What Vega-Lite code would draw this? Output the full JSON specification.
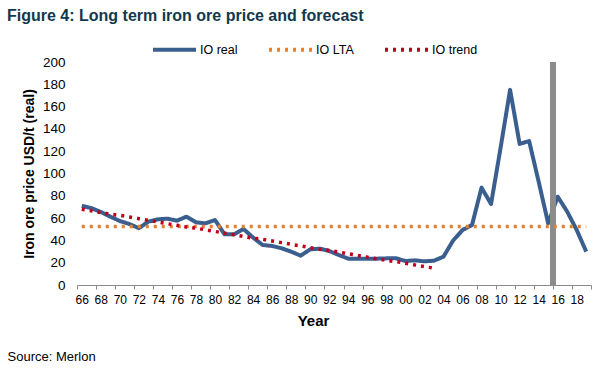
{
  "$schema": "https://vega.github.io/schema/vega-lite/v6.json",
  "width": 514,
  "height": 223,
  "autosize": {"type": "none"},
  "padding": {"left": 77, "top": 62, "right": 25, "bottom": 84},
  "background": "white",
  "config": {
    "font": "Liberation Sans",
    "view": {"stroke": null},
    "axis": {"labelOverlap": false}
  },
  "title": {
    "text": "Figure 4: Long term iron ore price and forecast",
    "anchor": "start",
    "frame": "group",
    "dx": -70,
    "dy": 19,
    "fontSize": 16,
    "fontWeight": "bold",
    "color": "#12384d",
    "baseline": "alphabetic",
    "offset": 8
  },
  "data": {
    "values": [
      {"year": 1966, "real": 71, "lta": 52.5, "trend": 68},
      {"year": 1967, "real": 69, "lta": 52.5, "trend": 66.5},
      {"year": 1968, "real": 65.5, "lta": 52.5, "trend": 65},
      {"year": 1969, "real": 61.3, "lta": 52.5, "trend": 63.5},
      {"year": 1970, "real": 57.4, "lta": 52.5, "trend": 62.5},
      {"year": 1971, "real": 54.7, "lta": 52.5, "trend": 61},
      {"year": 1972, "real": 51, "lta": 52.5, "trend": 59.5},
      {"year": 1973, "real": 56.8, "lta": 52.5, "trend": 58},
      {"year": 1974, "real": 58.9, "lta": 52.5, "trend": 56.5},
      {"year": 1975, "real": 59.5, "lta": 52.5, "trend": 55},
      {"year": 1976, "real": 57.7, "lta": 52.5, "trend": 53.5},
      {"year": 1977, "real": 61.3, "lta": 52.5, "trend": 52},
      {"year": 1978, "real": 56.2, "lta": 52.5, "trend": 51},
      {"year": 1979, "real": 55.3, "lta": 52.5, "trend": 49.5},
      {"year": 1980, "real": 58.3, "lta": 52.5, "trend": 48},
      {"year": 1981, "real": 45.5, "lta": 52.5, "trend": 46.5},
      {"year": 1982, "real": 45.5, "lta": 52.5, "trend": 45},
      {"year": 1983, "real": 50.2, "lta": 52.5, "trend": 43.5},
      {"year": 1984, "real": 42.5, "lta": 52.5, "trend": 42},
      {"year": 1985, "real": 35.9, "lta": 52.5, "trend": 41},
      {"year": 1986, "real": 35, "lta": 52.5, "trend": 39.5},
      {"year": 1987, "real": 32.9, "lta": 52.5, "trend": 38},
      {"year": 1988, "real": 29.9, "lta": 52.5, "trend": 36.5},
      {"year": 1989, "real": 26.3, "lta": 52.5, "trend": 35},
      {"year": 1990, "real": 32, "lta": 52.5, "trend": 33.5},
      {"year": 1991, "real": 32.6, "lta": 52.5, "trend": 32},
      {"year": 1992, "real": 30.5, "lta": 52.5, "trend": 31},
      {"year": 1993, "real": 26.9, "lta": 52.5, "trend": 29.5},
      {"year": 1994, "real": 23.6, "lta": 52.5, "trend": 28},
      {"year": 1995, "real": 23.6, "lta": 52.5, "trend": 26.5},
      {"year": 1996, "real": 23.6, "lta": 52.5, "trend": 25},
      {"year": 1997, "real": 23.6, "lta": 52.5, "trend": 23.5},
      {"year": 1998, "real": 23.9, "lta": 52.5, "trend": 22},
      {"year": 1999, "real": 24, "lta": 52.5, "trend": 21},
      {"year": 2000, "real": 21.5, "lta": 52.5, "trend": 19.5},
      {"year": 2001, "real": 22.1, "lta": 52.5, "trend": 18},
      {"year": 2002, "real": 21.2, "lta": 52.5, "trend": 16.5},
      {"year": 2003, "real": 21.8, "lta": 52.5, "trend": 15},
      {"year": 2004, "real": 25.4, "lta": 52.5},
      {"year": 2005, "real": 39.7, "lta": 52.5},
      {"year": 2006, "real": 49.3, "lta": 52.5},
      {"year": 2007, "real": 53.8, "lta": 52.5},
      {"year": 2008, "real": 87.3, "lta": 52.5},
      {"year": 2009, "real": 72.6, "lta": 52.5},
      {"year": 2010, "real": 123, "lta": 52.5},
      {"year": 2011, "real": 175, "lta": 52.5},
      {"year": 2012, "real": 126.5, "lta": 52.5},
      {"year": 2013, "real": 129.1, "lta": 52.5},
      {"year": 2014, "real": 92.7, "lta": 52.5},
      {"year": 2015, "real": 55.3, "lta": 52.5},
      {"year": 2016, "real": 79.2, "lta": 52.5},
      {"year": 2017, "real": 65.8, "lta": 52.5},
      {"year": 2018, "real": 49.3, "lta": 52.5},
      {"year": 2019, "real": 29.9, "lta": 52.5}
    ]
  },
  "transform": [
    {"fold": ["real", "lta", "trend"], "as": ["series", "value"]}
  ],
  "layer": [
    {
      "transform": [{"filter": "datum.series === 'real'"}],
      "mark": {"type": "line", "strokeWidth": 4, "strokeJoin": "round"},
      "encoding": {
        "x": {
          "field": "year", "type": "quantitative",
          "scale": {"domain": [1965.5, 2019.5], "nice": false, "zero": false},
          "axis": {
            "orient": "bottom",
            "values": [1966,1968,1970,1972,1974,1976,1978,1980,1982,1984,1986,1988,1990,1992,1994,1996,1998,2000,2002,2004,2006,2008,2010,2012,2014,2016,2018],
            "labelExpr": "slice(toString(datum.value), 2)",
            "ticks": false,
            "grid": false,
            "domain": true,
            "domainColor": "#8a8a8a",
            "domainWidth": 1,
            "labelFontSize": 12,
            "labelColor": "#000000",
            "labelPadding": 9,
            "labelBaseline": "top",
            "labelFlush": false,
            "labelOverlap": false,
            "title": "Year",
            "titleFontSize": 15,
            "titleFontWeight": "bold",
            "titleColor": "#000000",
            "titleX": 236,
            "titleY": 40,
            "titleBaseline": "alphabetic",
            "titleAlign": "center"
          }
        },
        "y": {
          "field": "value", "type": "quantitative",
          "scale": {"domain": [0, 200], "nice": false},
          "axis": {
            "orient": "left",
            "values": [0,20,40,60,80,100,120,140,160,180,200],
            "domain": false,
            "ticks": false,
            "grid": false,
            "labelOverlap": false,
            "labelFlush": false,
            "labelFontSize": 13.5,
            "labelColor": "#000000",
            "labelPadding": 12,
            "title": "Iron ore price USD/t (real)",
            "titleFontSize": 14,
            "titleFontWeight": "bold",
            "titleColor": "#000000",
            "titlePadding": 6
          }
        },
        "color": {
          "field": "series", "type": "nominal",
          "scale": {"domain": ["real", "lta", "trend"], "range": ["#3A5F8F", "#E5802E", "#C0001B"]},
          "legend": {
            "orient": "none",
            "legendX": 74,
            "legendY": -36,
            "direction": "horizontal",
            "title": null,
            "labelExpr": "{'real': 'IO real', 'lta': 'IO LTA', 'trend': 'IO trend'}[datum.label]",
            "labelFontSize": 12.5,
            "labelColor": "#000000",
            "labelOffset": 2,
            "symbolType": "stroke",
            "symbolSize": 1849,
            "symbolStrokeWidth": 4,
            "columnPadding": 23
          }
        },
        "strokeDash": {
          "field": "series", "type": "nominal",
          "scale": {"domain": ["real", "lta", "trend"], "range": [[1, 0], [3, 5], [3, 5]]},
          "legend": {
            "orient": "none",
            "legendX": 74,
            "legendY": -36,
            "direction": "horizontal",
            "title": null,
            "labelExpr": "{'real': 'IO real', 'lta': 'IO LTA', 'trend': 'IO trend'}[datum.label]",
            "labelFontSize": 12.5,
            "labelColor": "#000000",
            "labelOffset": 2,
            "symbolType": "stroke",
            "symbolSize": 1849,
            "symbolStrokeWidth": 4,
            "columnPadding": 23
          }
        }
      }
    },
    {
      "mark": {"type": "rule", "color": "#8c8c8c", "strokeWidth": 5},
      "encoding": {
        "x": {
          "datum": 2015.5, "type": "quantitative",
          "axis": {
            "orient": "bottom",
            "values": [1965.5,1967.5,1969.5,1971.5,1973.5,1975.5,1977.5,1979.5,1981.5,1983.5,1985.5,1987.5,1989.5,1991.5,1993.5,1995.5,1997.5,1999.5,2001.5,2003.5,2005.5,2007.5,2009.5,2011.5,2013.5,2015.5,2017.5,2019.5],
            "labels": false,
            "domain": false,
            "grid": false,
            "ticks": true,
            "tickSize": 4,
            "tickColor": "#8a8a8a",
            "title": "Source: Merlon",
            "titleFontSize": 13,
            "titleFontWeight": "normal",
            "titleColor": "#000000",
            "titleX": -70,
            "titleY": 75,
            "titleAlign": "left",
            "titleAnchor": "start",
            "titleBaseline": "alphabetic"
          }
        },
        "y": {"datum": 0, "type": "quantitative", "axis": null},
        "y2": {"datum": 200}
      }
    },
    {
      "transform": [{"filter": "datum.series !== 'real'"}],
      "mark": {"type": "line", "strokeWidth": 3.5},
      "encoding": {
        "x": {"field": "year", "type": "quantitative", "axis": null},
        "y": {"field": "value", "type": "quantitative", "axis": null},
        "color": {"field": "series", "type": "nominal"},
        "strokeDash": {"field": "series", "type": "nominal"}
      }
    }
  ],
  "resolve": {"axis": {"x": "independent", "y": "independent"}}
}
